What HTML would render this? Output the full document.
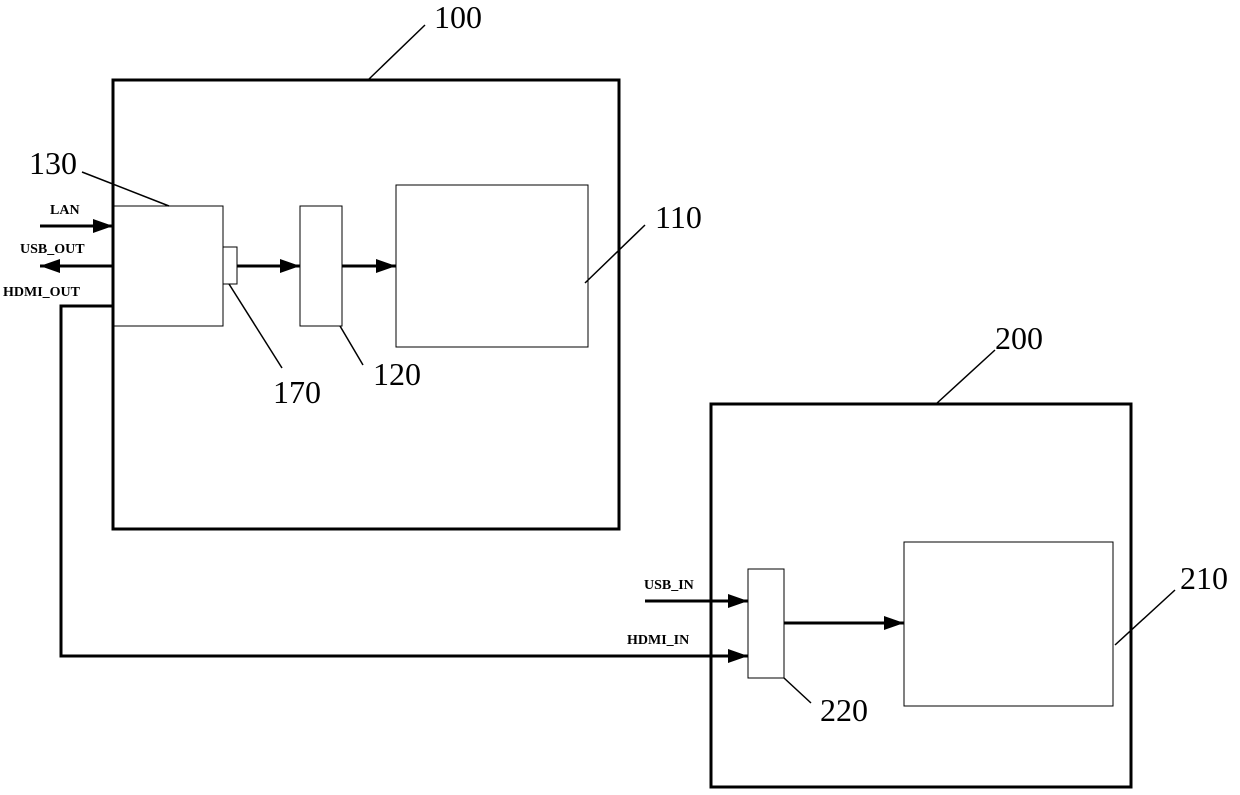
<!DOCTYPE html>
<html><head><style>body{margin:0;background:#fff}</style></head><body>
<svg width="1240" height="795" xmlns="http://www.w3.org/2000/svg" style="display:block">
<defs>
<marker id="b" markerWidth="20" markerHeight="14" refX="20" refY="7" orient="auto" markerUnits="userSpaceOnUse" viewBox="0 0 20 14"><path d="M0,0 L20,7 L0,14z" fill="#000"/></marker></defs>
<g fill="none" stroke="#000">
<rect x="113" y="80" width="506" height="449" stroke-width="3"/>
<rect x="711" y="404" width="420" height="383" stroke-width="3"/>
<rect x="114" y="206" width="109" height="120" stroke-width="1"/>
<rect x="223" y="247" width="14" height="37" stroke-width="1"/>
<rect x="300" y="206" width="42" height="120" stroke-width="1"/>
<rect x="396" y="185" width="192" height="162" stroke-width="1"/>
<rect x="748" y="569" width="36" height="109" stroke-width="1"/>
<rect x="904" y="542" width="209" height="164" stroke-width="1"/>
<g stroke-width="1.5">
<line x1="368" y1="80" x2="425" y2="25"/>
<line x1="936" y1="404" x2="995" y2="350"/>
<line x1="585" y1="283" x2="645" y2="225"/>
<line x1="1115" y1="645" x2="1175" y2="590"/>
<line x1="82" y1="172" x2="169" y2="206"/>
<line x1="229" y1="284" x2="282" y2="368"/>
<line x1="340" y1="326" x2="363" y2="365"/>
<line x1="784" y1="678" x2="811" y2="703"/>
</g>
<g stroke-width="3">
<line x1="40" y1="226" x2="113" y2="226" marker-end="url(#b)"/>
<line x1="113" y1="266" x2="40" y2="266" marker-end="url(#b)"/>
<line x1="237" y1="266" x2="300" y2="266" marker-end="url(#b)"/>
<line x1="342" y1="266" x2="396" y2="266" marker-end="url(#b)"/>
<polyline points="113,306 61,306 61,656 748,656" marker-end="url(#b)"/>
<line x1="645" y1="601" x2="748" y2="601" marker-end="url(#b)"/>
<line x1="784" y1="623" x2="904" y2="623" marker-end="url(#b)"/>
</g>
</g>
<g font-family="Liberation Serif, serif" font-size="32" fill="#000">
<text x="434" y="28">100</text>
<text x="29" y="174">130</text>
<text x="655" y="228">110</text>
<text x="273" y="403">170</text>
<text x="373" y="385">120</text>
<text x="995" y="349">200</text>
<text x="1180" y="589">210</text>
<text x="820" y="721">220</text>
</g>
<g font-family="Liberation Serif, serif" font-size="14" font-weight="bold" fill="#000">
<text x="50" y="214">LAN</text>
<text x="20" y="253">USB_OUT</text>
<text x="3" y="296">HDMI_OUT</text>
<text x="644" y="589">USB_IN</text>
<text x="627" y="644">HDMI_IN</text>
</g>
</svg>
</body></html>
